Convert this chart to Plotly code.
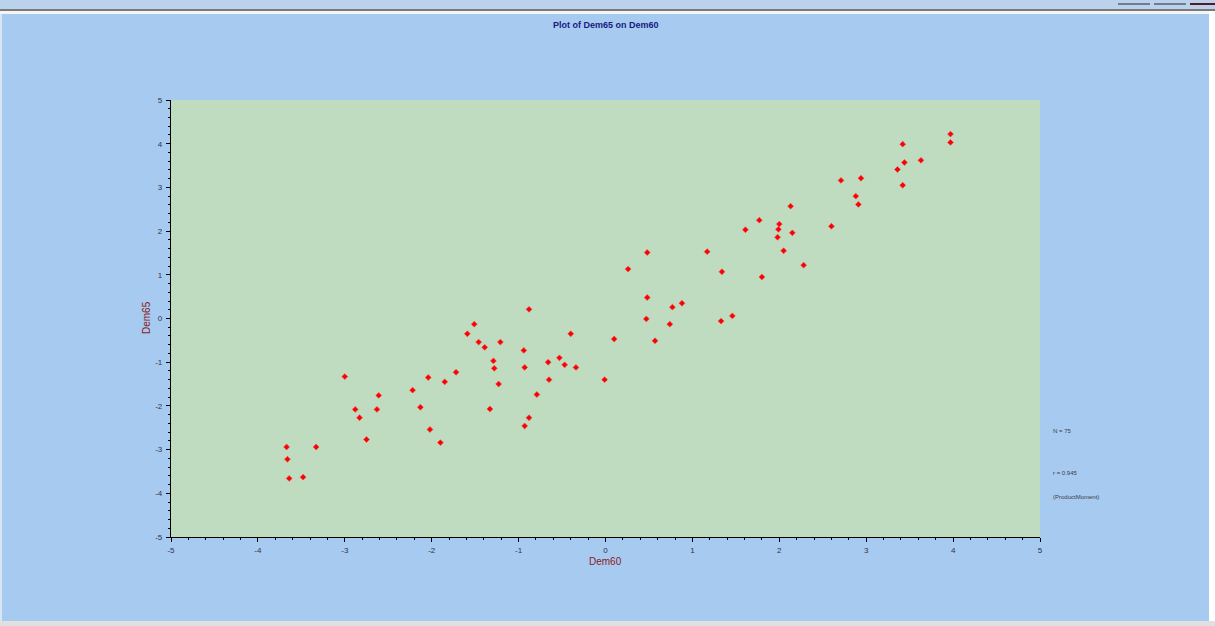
import plotly.graph_objects as go

# Data (Dem60 on x, Dem65 on y)
dem60 = [-3.00, -2.61, -2.88, -2.63, -2.83, -2.75, -2.22, -2.04, -1.85, -1.72,
         -2.13, -2.02, -1.90, -3.67, -3.33, -3.66, -3.64, -3.48, -0.88, -1.51,
         -1.59, -1.46, -1.39, -1.21, -0.94, -0.40, 0.10, -1.29, -1.28, -0.93,
         -0.66, -0.53, -0.47, -0.34, -1.23, -0.65, -0.01, -0.79, -1.33, -0.88,
         -0.93, 0.48, 1.17, 0.26, 1.34, 1.80, 0.48, 0.77, 0.88, 0.47,
         0.74, 1.33, 1.46, 0.57, 1.98, 2.15, 2.05, 2.28, 1.61, 2.00,
         1.99, 3.97, 3.97, 3.42, 3.44, 3.63, 3.36, 3.42, 2.71, 2.94,
         2.88, 2.91, 2.13, 1.77, 2.60]
dem65 = [-1.33, -1.76, -2.08, -2.08, -2.27, -2.77, -1.64, -1.35, -1.45, -1.23,
         -2.03, -2.54, -2.84, -2.94, -2.94, -3.22, -3.66, -3.63, 0.21, -0.13,
         -0.35, -0.54, -0.66, -0.54, -0.73, -0.35, -0.47, -0.97, -1.14, -1.12,
         -1.00, -0.90, -1.06, -1.12, -1.50, -1.40, -1.40, -1.74, -2.07, -2.27,
         -2.46, 1.51, 1.53, 1.13, 1.07, 0.95, 0.48, 0.26, 0.35, -0.01,
         -0.13, -0.06, 0.06, -0.51, 1.86, 1.96, 1.55, 1.22, 2.03, 2.16,
         2.04, 4.22, 4.03, 3.99, 3.57, 3.62, 3.41, 3.05, 3.16, 3.21,
         2.80, 2.61, 2.57, 2.25, 2.11]

tick_vals = [-5, -4, -3, -2, -1, 0, 1, 2, 3, 4, 5]
tick_text = ["-5", "-4", "-3", "-2", "-1", "0", "1", "2", "3", "4", "5"]
title_text = "Plot of Dem65 on Dem60"
x_title = "Dem60"
y_title = "Dem65"
stats_lines = ["N = 75", "r = 0.945", "(ProductMoment)"]

W, H = 1215, 626
L, R, T, B = 171, 175, 100, 89
pw, ph = W - L - R, H - T - B

def px(x):
    return (x - L) / pw

def py(y):
    return (H - B - y) / ph

SKY = "#A6CAF0"
GREEN = "#C0DCC0"
FONT = "Liberation Sans, Arial"

fig = go.Figure()
fig.add_trace(go.Scatter(
    x=dem60, y=dem65, mode="markers",
    marker=dict(symbol="diamond", size=4.5, color="#FF0000",
                line=dict(width=0.6, color="#E84040")),
    hoverinfo="x+y", showlegend=False,
))

axis_common = dict(
    range=[-5, 5], tickvals=tick_vals, ticktext=tick_text, ticks="outside",
    ticklen=4, tickwidth=1, tickcolor="#000000", showline=True,
    linecolor="#000000", linewidth=1.3, showgrid=False, zeroline=False,
    tickfont=dict(family=FONT, size=8, color="#333340"),
    minor=dict(dtick=0.2, ticks="outside", ticklen=2, tickcolor="#000000", showgrid=False),
    fixedrange=True,
)

fig.update_xaxes(**axis_common, ticklabelstandoff=1)
fig.update_yaxes(**axis_common, ticklabelstandoff=2)

shapes = [
    dict(type="rect", xref="paper", yref="paper", x0=px(0), x1=px(W), y0=py(0), y1=py(9),
         fillcolor="#BAD2EC", line=dict(width=0), layer="below"),
    dict(type="rect", xref="paper", yref="paper", x0=px(0), x1=px(W), y0=py(9), y1=py(11),
         fillcolor="#7A7A7A", line=dict(width=0), layer="below"),
    dict(type="rect", xref="paper", yref="paper", x0=px(0), x1=px(W), y0=py(11), y1=py(14),
         fillcolor="#F4F4F4", line=dict(width=0), layer="below"),
    dict(type="rect", xref="paper", yref="paper", x0=px(1209), x1=px(W), y0=py(11), y1=py(H),
         fillcolor="#FFFFFF", line=dict(width=0), layer="below"),
    dict(type="rect", xref="paper", yref="paper", x0=px(0), x1=px(W), y0=py(621), y1=py(H),
         fillcolor="#E0E0E0", line=dict(width=0), layer="below"),
    dict(type="rect", xref="paper", yref="paper", x0=px(0), x1=px(2), y0=py(14), y1=py(621),
         fillcolor="#D8E6F4", line=dict(width=0), layer="below"),
    dict(type="rect", xref="paper", yref="paper", x0=px(1118), x1=px(1150), y0=py(3), y1=py(5),
         fillcolor="#6E7E90", line=dict(width=0), layer="below"),
    dict(type="rect", xref="paper", yref="paper", x0=px(1154), x1=px(1186), y0=py(3), y1=py(5),
         fillcolor="#6E7E90", line=dict(width=0), layer="below"),
    dict(type="rect", xref="paper", yref="paper", x0=px(1190), x1=px(W), y0=py(3), y1=py(5),
         fillcolor="#5A1A20", line=dict(width=0), layer="below"),
]

annotations = [
    dict(text="<b>" + title_text + "</b>", xref="paper", yref="paper", x=px(606), y=py(25),
         xanchor="center", yanchor="middle", showarrow=False,
         font=dict(family=FONT, size=9, color="#1A1A80")),
    dict(text=x_title, xref="paper", yref="paper", x=px(605), y=py(561),
         xanchor="center", yanchor="middle", showarrow=False,
         font=dict(family=FONT, size=10, color="#8B1A1A")),
    dict(text=y_title, xref="paper", yref="paper", x=px(146), y=py(318),
         xanchor="center", yanchor="middle", showarrow=False, textangle=-90,
         font=dict(family=FONT, size=10, color="#8B1A1A")),
]
for txt, yy in zip(stats_lines, [431, 473, 497]):
    annotations.append(dict(text=txt, xref="paper", yref="paper", x=px(1051), y=py(yy),
                            xanchor="left", yanchor="middle", showarrow=False,
                            font=dict(family=FONT, size=6, color="#404040")))

fig.update_layout(
    width=W, height=H, autosize=False,
    margin=dict(l=L, r=R, t=T, b=B, pad=0),
    paper_bgcolor=SKY, plot_bgcolor=GREEN,
    shapes=shapes, annotations=annotations,
    showlegend=False,
)

fig.write_html("out.html", config={"displayModeBar": False},
               post_script="document.body.style.margin='0';document.body.style.overflow='hidden';")
